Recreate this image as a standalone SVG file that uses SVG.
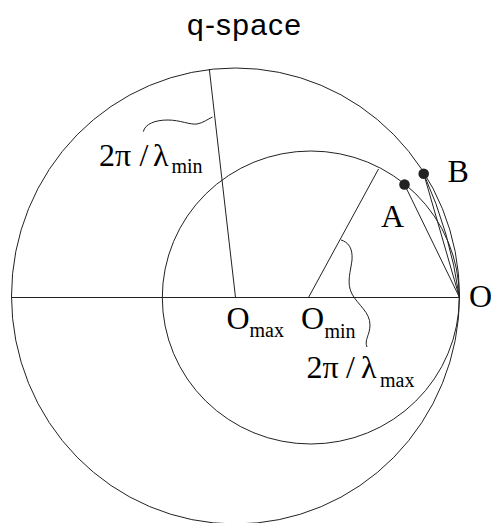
<svg xmlns="http://www.w3.org/2000/svg" width="491" height="523" viewBox="0 0 491 523">
<style>
.ln{fill:none;stroke:#222;stroke-width:1}
.dot{fill:#222}
.t{font-family:"Liberation Serif","Times New Roman",serif;fill:#000;font-size:32px}
.s{font-size:20px}
.title{font-family:"Liberation Sans",Arial,sans-serif;font-size:30px;fill:#000}
</style>
<rect width="491" height="523" fill="#fff"/>
<text class="title" x="187" y="34.5" textLength="114" lengthAdjust="spacing">q-space</text>
<g id="outer-sphere">
<ellipse class="ln" cx="235.5" cy="296" rx="224" ry="228"/>
</g>
<g id="inner-sphere">
<ellipse class="ln" cx="310.8" cy="297.5" rx="148.5" ry="146.5"/>
</g>
<g id="connectors">
<line class="ln" x1="11.5" y1="297.5" x2="459.3" y2="297.5"/>
<line class="ln" x1="209.3" y1="69" x2="235.5" y2="297.5"/>
<line class="ln" x1="308.5" y1="297.5" x2="378.5" y2="169"/>
<line class="ln" x1="404.5" y1="184.5" x2="459.3" y2="297"/>
<line class="ln" x1="423.7" y1="173.7" x2="459.3" y2="297"/>
<path class="ln" d="M423.7,173.7 A457,457 0 0,1 459.3,297"/>
<path class="ln" d="M143.3,131.7 C145,124 155,120 168,120 C180,120 190,125 197,124 C203,123 208,119 212.5,117"/>
<path class="ln" d="M341,240 C348,242 353,248 352,260 C351,270 346,283 352,294 C358,305 370,312 370,325 C370,335 364,340 367,347"/>
</g>
<g id="point-A">
<circle class="dot" cx="404.5" cy="184.5" r="5.3"/>
<text class="t" x="381" y="227.3">A</text>
</g>
<g id="point-B">
<circle class="dot" cx="423.7" cy="173.7" r="5.3"/>
<text class="t" x="447.5" y="181.5">B</text>
</g>
<g id="point-O">
<text class="t" x="469" y="306.7">O</text>
</g>
<g id="Omax">
<text class="t" x="226.5" y="329">O</text>
<text class="t s" x="249.5" y="337">max</text>
</g>
<g id="Omin">
<text class="t" x="301" y="329">O</text>
<text class="t s" x="324.5" y="338">min</text>
</g>
<g id="label-lambda-min">
<text class="t" x="99" y="165.7">2π</text>
<text class="t" x="139.5" y="165.7">/</text>
<text class="t" x="153" y="165.7">λ</text>
<text class="t s" x="171.5" y="173.3">min</text>
</g>
<g id="label-lambda-max">
<text class="t" x="306.5" y="377.7">2π</text>
<text class="t" x="346" y="377.7">/</text>
<text class="t" x="361" y="377.7">λ</text>
<text class="t s" x="380" y="386.7">max</text>
</g>
</svg>
